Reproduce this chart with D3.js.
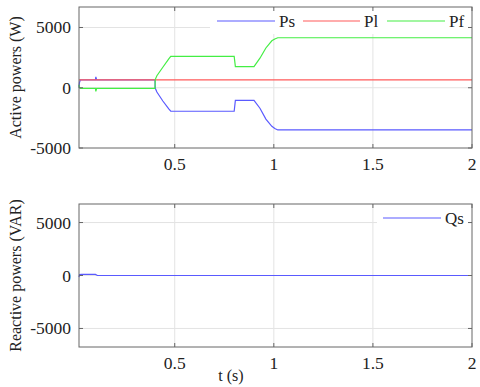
<!DOCTYPE html>
<html><head><meta charset="utf-8">
<script src="https://cdn.jsdelivr.net/npm/d3@7/dist/d3.min.js"></script>
<style>
body{margin:0;background:#fff;}
</style></head>
<body><svg id="c" width="480" height="387" font-family="'Liberation Serif', 'Times New Roman', serif"></svg>
<script>
// ---- data ----
const tP  = [0.017,0.019,0.024,0.100,0.102,0.106,0.400,0.402,0.410,0.440,0.470,0.480,0.800,0.806,0.900,0.930,0.960,0.990,1.005,1.020,1.500,2.000];
const Ps  = [0,    400,  650,  650,  900,  650,  650,  -50,  -350, -1100,-1750,-1950,-1950,-1050,-1050,-1700,-2600,-3200,-3380,-3500,-3500,-3500];
const Pl  = [650,  650,  650,  650,  650,  650,  650,  650,  650,  650,  650,  650,  650,  650,  650,  650,  650,  650,  650,  650,  650,  650];
const Pf  = [250,  0,    -50,  -50,  -300, -50,  -50,  700,  1000, 1700, 2400, 2600, 2600, 1750, 1750, 2450, 3300, 3900, 4050, 4150, 4150, 4150];
const tQ  = [0.017,0.020,0.030,0.100,0.110,2.000];
const Qs  = [-150, 100,  120,  100,  0,    0];
const xTicks = [0.5,1,1.5,2];
const xTickLabels = ["0.5","1","1.5","2"];
const yTicks = [-5000,0,5000];
const yTickLabels = ["-5000","0","5000"];
const topSeries = ["Ps","Pl","Pf"];
const botSeries = ["Qs"];
const colors = {Ps:"#5a5aff",Pl:"#ff5a5a",Pf:"#44ee44",Qs:"#5a5aff"};
const FONT = "'Liberation Serif', 'Times New Roman', serif";

const svg = d3.select("#c");
const L=79,R=472;
const x = d3.scaleLinear().domain([0.017,2]).range([L,R]);

function txt(g,size){ return g.append("text").attr("font-family",FONT).attr("fill","#222").attr("font-size",size||16); }

function panel(top,bottom,ydom,series,data,tdata,ylabel,legendBox,legendItems){
  const y = d3.scaleLinear().domain(ydom).range([bottom,top]);
  const g = svg.append("g");
  g.selectAll(".gx").data(xTicks.filter(v=>v<2)).enter().append("line")
    .attr("x1",d=>x(d)).attr("x2",d=>x(d)).attr("y1",top).attr("y2",bottom)
    .attr("stroke","#e3e3e3").attr("stroke-width",1);
  g.selectAll(".gy").data(yTicks.filter(v=>v>ydom[0]&&v<ydom[1])).enter().append("line")
    .attr("x1",L).attr("x2",R).attr("y1",d=>y(d)).attr("y2",d=>y(d))
    .attr("stroke","#e3e3e3").attr("stroke-width",1);
  series.forEach((s,i)=>{
    const line = d3.line().x((d,j)=>x(tdata[j])).y(d=>y(d));
    g.append("path").datum(data[i]).attr("d",line).attr("fill","none")
      .attr("stroke",colors[s]).attr("stroke-width",1.2);
  });
  g.append("rect").attr("x",legendBox[0]).attr("y",legendBox[1]).attr("width",legendBox[2]).attr("height",legendBox[3]).attr("fill","#fff");
  legendItems.forEach(it=>{
    g.append("line").attr("x1",it.x1).attr("x2",it.x2).attr("y1",it.y).attr("y2",it.y)
      .attr("stroke",colors[it.s]).attr("stroke-width",1.2);
    txt(g,17).attr("x",it.x2+4).attr("y",it.y+5.5).text(it.s);
  });
  g.append("rect").attr("x",L).attr("y",top).attr("width",R-L).attr("height",bottom-top)
    .attr("fill","none").attr("stroke","#666").attr("stroke-width",1);
  xTicks.forEach(v=>{
    g.append("line").attr("x1",x(v)).attr("x2",x(v)).attr("y1",bottom).attr("y2",bottom-4).attr("stroke","#666");
    g.append("line").attr("x1",x(v)).attr("x2",x(v)).attr("y1",top).attr("y2",top+4).attr("stroke","#666");
  });
  yTicks.forEach(v=>{
    g.append("line").attr("x1",L).attr("x2",L+4).attr("y1",y(v)).attr("y2",y(v)).attr("stroke","#666");
    g.append("line").attr("x1",R).attr("x2",R-4).attr("y1",y(v)).attr("y2",y(v)).attr("stroke","#666");
  });
  xTicks.forEach((v,i)=>{
    txt(g,17.5).attr("x",x(v)).attr("y",bottom+22).attr("text-anchor","middle").text(xTickLabels[i]);
  });
  yTicks.forEach((v,i)=>{
    txt(g,17.5).attr("x",L-8).attr("y",y(v)+6).attr("text-anchor","end").text(yTickLabels[i]);
  });
  txt(g,16).attr("transform",`translate(21,${(top+bottom)/2}) rotate(-90)`)
    .attr("text-anchor","middle").text(ylabel);
  return y;
}

panel(7,148,[-5000,6700],topSeries,[Ps,Pl,Pf],tP,"Active powers (W)",
  [210,8,261,26],
  [{s:"Ps",x1:217,x2:275,y:21},{s:"Pl",x1:303,x2:360,y:21},{s:"Pf",x1:387,x2:445,y:21}]);
panel(204,347,[-6750,6750],botSeries,[Qs],tQ,"Reactive powers (VAR)",
  [377,205,94,26],
  [{s:"Qs",x1:383,x2:441,y:218}]);

txt(svg,16).attr("x",231).attr("y",381).attr("text-anchor","middle").text("t (s)");
</script>
</body></html>
